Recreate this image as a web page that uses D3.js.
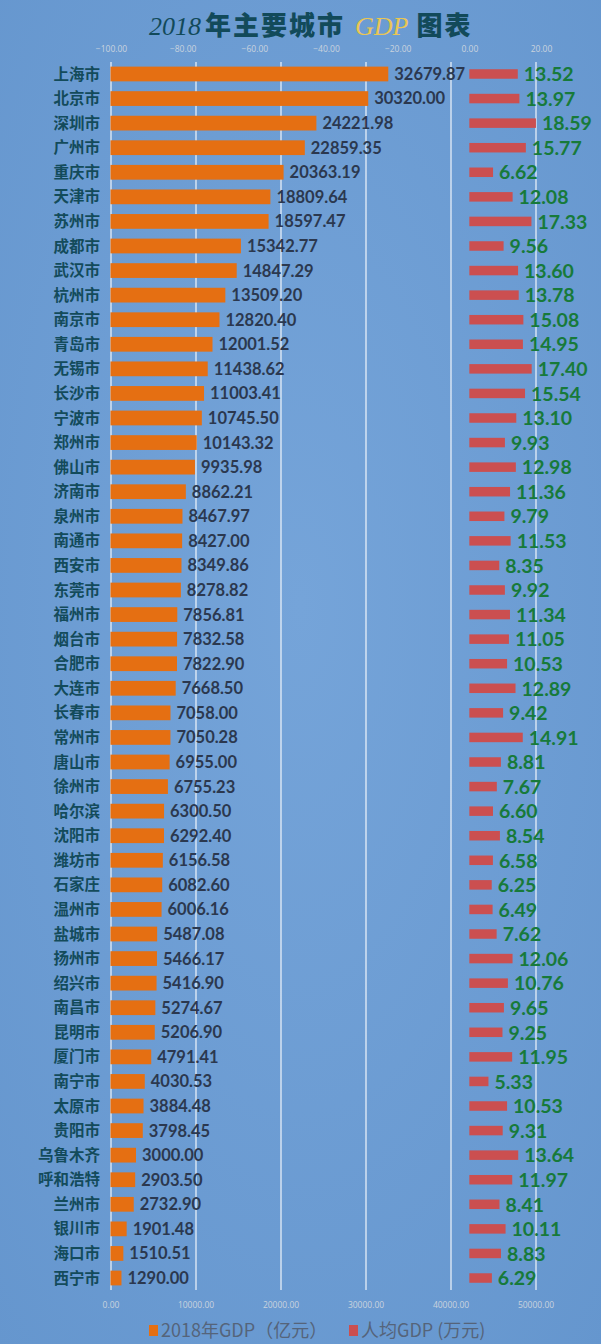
<!DOCTYPE html>
<html><head><meta charset="utf-8">
<script src="https://cdn.jsdelivr.net/npm/d3@7"></script>
<style>
html,body{margin:0;padding:0;background:#6a9ad2;}
svg{display:block;}
</style></head>
<body>
<svg id="chart" width="601" height="1344"></svg>
<script>
const cities = ["上海市","北京市","深圳市","广州市","重庆市","天津市","苏州市","成都市","武汉市","杭州市","南京市","青岛市","无锡市","长沙市","宁波市","郑州市","佛山市","济南市","泉州市","南通市","西安市","东莞市","福州市","烟台市","合肥市","大连市","长春市","常州市","唐山市","徐州市","哈尔滨","沈阳市","潍坊市","石家庄","温州市","盐城市","扬州市","绍兴市","南昌市","昆明市","厦门市","南宁市","太原市","贵阳市","乌鲁木齐","呼和浩特","兰州市","银川市","海口市","西宁市"];
const gdp = [32679.87,30320.00,24221.98,22859.35,20363.19,18809.64,18597.47,15342.77,14847.29,13509.20,12820.40,12001.52,11438.62,11003.41,10745.50,10143.32,9935.98,8862.21,8467.97,8427.00,8349.86,8278.82,7856.81,7832.58,7822.90,7668.50,7058.00,7050.28,6955.00,6755.23,6300.50,6292.40,6156.58,6082.60,6006.16,5487.08,5466.17,5416.90,5274.67,5206.90,4791.41,4030.53,3884.48,3798.45,3000.00,2903.50,2732.90,1901.48,1510.51,1290.00];
const perCapita = [13.52,13.97,18.59,15.77,6.62,12.08,17.33,9.56,13.60,13.78,15.08,14.95,17.40,15.54,13.10,9.93,12.98,11.36,9.79,11.53,8.35,9.92,11.34,11.05,10.53,12.89,9.42,14.91,8.81,7.67,6.60,8.54,6.58,6.25,6.49,7.62,12.06,10.76,9.65,9.25,11.95,5.33,10.53,9.31,13.64,11.97,8.41,10.11,8.83,6.29];
const bottomTicks = [0,10000,20000,30000,40000,50000];
const topTicks = [-100,-80,-60,-40,-20,0,20];
const seriesNames = ["2018年GDP（亿元）","人均GDP (万元)"];

const svg = d3.select("#chart");
const W = 601, H = 1344;

const defs = svg.append("defs");
const grad = defs.append("radialGradient").attr("id","bg").attr("cx","50%").attr("cy","45%").attr("r","75%");
grad.append("stop").attr("offset","0%").attr("stop-color","#75a4d9");
grad.append("stop").attr("offset","100%").attr("stop-color","#6596ce");
svg.append("rect").attr("width",W).attr("height",H).attr("fill","url(#bg)");

const x = d3.scaleLinear().domain([0,50000]).range([110.5,535.5]);
const x2 = d3.scaleLinear().domain([-100,20]).range([111,541]);
const y = d3.scaleBand().domain(cities).range([61.7,1290.3]).paddingInner(0.4).paddingOuter(0.2);

const gridTop = 62, gridBottom = 1290;

// gridlines
const grid = svg.append("g").attr("transform",`translate(0,${gridBottom})`)
  .call(d3.axisBottom(x).tickValues(bottomTicks).tickSize(-(gridBottom-gridTop)).tickFormat(""));
grid.select(".domain").remove();
grid.selectAll(".tick line").attr("stroke","#ffffff").attr("stroke-opacity",0.9).attr("stroke-width",1.2);

// bottom axis labels
const bAxis = svg.append("g").attr("transform",`translate(0,1300)`)
  .call(d3.axisBottom(x).tickValues(bottomTicks).tickSize(0).tickFormat(d3.format(".2f")));
bAxis.select(".domain").remove();
bAxis.selectAll("text").attr("fill","#c9d3de").attr("font-size","8.5px").attr("font-family","Open Sans, sans-serif").attr("dy","0.35em").attr("y",5);

// top axis labels
const tAxis = svg.append("g").attr("transform",`translate(0,49)`)
  .call(d3.axisTop(x2).tickValues(topTicks).tickSize(0).tickFormat(d3.format(".2f")));
tAxis.select(".domain").remove();
tAxis.selectAll("text").attr("fill","#c9d3de").attr("font-size","8.5px").attr("font-family","Open Sans, sans-serif").attr("y",0).attr("dy","0.35em");

// city labels
svg.append("g").selectAll("text").data(cities).join("text")
  .attr("x",100).attr("y",d=>y(d)+y.bandwidth()/2).attr("dy","0.36em")
  .attr("text-anchor","end").attr("fill","#134b5b")
  .attr("font-family","Noto Sans CJK SC, sans-serif").attr("font-weight",700).attr("font-size","15.5px")
  .text(d=>d);

// GDP bars
svg.append("g").selectAll("rect").data(gdp).join("rect")
  .attr("x",x(0)).attr("y",(d,i)=>y(cities[i]))
  .attr("width",d=>x(d)-x(0)).attr("height",y.bandwidth())
  .attr("fill","#e56f12");

// GDP labels
svg.append("g").selectAll("text").data(gdp).join("text")
  .attr("x",d=>x(d)+6).attr("y",(d,i)=>y(cities[i])+y.bandwidth()/2).attr("dy","0.36em")
  .attr("fill","#2b384f").attr("font-family","Lato, sans-serif").attr("font-weight",700).attr("font-size","16.5px")
  .text(d=>d3.format(".2f")(d));

// per-capita bars
const rh = 9.5;
svg.append("g").selectAll("rect").data(perCapita).join("rect")
  .attr("x",x2(0)).attr("y",(d,i)=>y(cities[i])+y.bandwidth()/2-rh/2)
  .attr("width",d=>x2(d)-x2(0)).attr("height",rh)
  .attr("fill","#cb4f50");

// per-capita labels
svg.append("g").selectAll("text").data(perCapita).join("text")
  .attr("x",d=>x2(d)+6).attr("y",(d,i)=>y(cities[i])+y.bandwidth()/2).attr("dy","0.37em")
  .attr("fill","#177a3a").attr("font-family","Lato, sans-serif").attr("font-weight",700).attr("font-size","19.5px")
  .text(d=>d3.format(".2f")(d));

// title
const title = svg.append("text").attr("x",149).attr("y",35).attr("font-size","26px");
title.append("tspan").text("2018").attr("font-family","Liberation Serif, serif").attr("font-style","italic").attr("fill","#124a5a");
title.append("tspan").text("年主要城市").attr("dx",4).attr("letter-spacing","2px").attr("font-family","Noto Sans CJK SC, sans-serif").attr("font-weight",900).attr("fill","#124a5a");
title.append("tspan").text("GDP").attr("dx",10).attr("font-family","Liberation Serif, serif").attr("font-style","italic").attr("fill","#e9c654");
title.append("tspan").text("图表").attr("dx",8).attr("letter-spacing","2px").attr("font-family","Noto Sans CJK SC, sans-serif").attr("font-weight",900).attr("fill","#124a5a");

// legend
const legendColors = ["#e56f12","#cb4f50"];
const legendX = [149,349];
const lg = svg.append("g");
seriesNames.forEach((n,i)=>{
  lg.append("rect").attr("x",legendX[i]).attr("y",1325).attr("width",9).attr("height",11).attr("fill",legendColors[i]);
  lg.append("text").attr("x",legendX[i]+12).attr("y",1331).attr("dy","0.36em")
    .attr("fill","#55647a").attr("font-family","Noto Sans CJK SC, sans-serif").attr("font-size","18px").text(n);
});
</script>
</body></html>
